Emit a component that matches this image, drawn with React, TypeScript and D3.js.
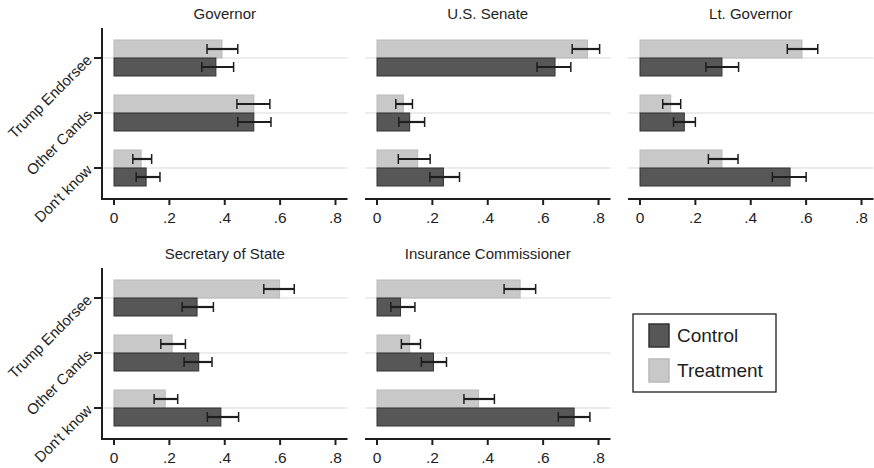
import React from "react";
import * as d3 from "d3";

const categories = ["Trump Endorsee", "Other Cands", "Don't know"];
const offices = ["Governor", "U.S. Senate", "Lt. Governor", "Secretary of State", "Insurance Commissioner"];
const series = ["Control", "Treatment"];
const xTicks = [0, 0.2, 0.4, 0.6, 0.8];
const xTickLabels = ["0", ".2", ".4", ".6", ".8"];

// [office][category] values
const controlMean = [
  [0.368, 0.505, 0.116],
  [0.643, 0.118, 0.240],
  [0.296, 0.160, 0.542],
  [0.300, 0.306, 0.386],
  [0.085, 0.204, 0.712],
];
const controlLo = [
  [0.317, 0.447, 0.080],
  [0.578, 0.079, 0.191],
  [0.238, 0.121, 0.478],
  [0.246, 0.253, 0.337],
  [0.050, 0.160, 0.655],
];
const controlHi = [
  [0.432, 0.567, 0.166],
  [0.700, 0.172, 0.298],
  [0.356, 0.200, 0.600],
  [0.359, 0.354, 0.450],
  [0.137, 0.251, 0.769],
];
const treatMean = [
  [0.390, 0.505, 0.098],
  [0.760, 0.095, 0.147],
  [0.585, 0.111, 0.296],
  [0.598, 0.210, 0.185],
  [0.517, 0.118, 0.367],
];
const treatLo = [
  [0.336, 0.444, 0.068],
  [0.705, 0.068, 0.077],
  [0.532, 0.082, 0.247],
  [0.541, 0.169, 0.145],
  [0.459, 0.088, 0.314],
];
const treatHi = [
  [0.447, 0.563, 0.136],
  [0.804, 0.128, 0.192],
  [0.642, 0.147, 0.354],
  [0.651, 0.258, 0.230],
  [0.573, 0.157, 0.424],
];

const FONT = "'Liberation Sans', Arial, Helvetica, sans-serif";
const CTRL_FILL = "#575757";
const CTRL_STROKE = "#333333";
const TRT_FILL = "#c8c8c8";
const TRT_STROKE = "#b9b9b9";
const INK = "#1e1e1e";

const panelX0 = [114, 377, 640, 114, 377];
const panelTop = [28, 28, 28, 268, 268];
const showY = [true, false, false, true, false];

function Panel({ idx }: { idx: number }) {
  const x0 = panelX0[idx];
  const top = panelTop[idx];
  const bottom = top + 171;
  const x = d3.scaleLinear().domain([0, 0.8]).range([x0, x0 + 221.5]);
  const y = d3.scalePoint<string>().domain(categories).range([top + 30, top + 140]);
  const axisL = x0 - 12;
  const axisR = x(0.8) + 12;
  const barH = 18;
  const bars = categories.map((c, ci) => {
    const cy = y(c) as number;
    return (
      <g key={c}>
        <line x1={axisL} x2={axisR} y1={cy} y2={cy} stroke="#ececec" strokeWidth={2} />
        <rect x={x(0)} y={cy - barH} width={x(treatMean[idx][ci]) - x(0)} height={barH} fill={TRT_FILL} stroke={TRT_STROKE} strokeWidth={1} />
        <rect x={x(0)} y={cy} width={x(controlMean[idx][ci]) - x(0)} height={barH} fill={CTRL_FILL} stroke={CTRL_STROKE} strokeWidth={1} />
        {[
          { lo: treatLo[idx][ci], hi: treatHi[idx][ci], yy: cy - barH / 2 },
          { lo: controlLo[idx][ci], hi: controlHi[idx][ci], yy: cy + barH / 2 },
        ].map((e, k) => (
          <g key={k} stroke={INK}>
            <line x1={x(e.lo)} x2={x(e.hi)} y1={e.yy} y2={e.yy} strokeWidth={2.2} />
            <line x1={x(e.lo)} x2={x(e.lo)} y1={e.yy - 5} y2={e.yy + 5} strokeWidth={1.5} />
            <line x1={x(e.hi)} x2={x(e.hi)} y1={e.yy - 5} y2={e.yy + 5} strokeWidth={1.5} />
          </g>
        ))}
      </g>
    );
  });
  return (
    <g>
      <text x={(axisL + axisR) / 2} y={top - 9} textAnchor="middle" fontFamily={FONT} fontSize={15} fill={INK}>
        {offices[idx]}
      </text>
      {bars}
      <line x1={axisL} x2={axisR} y1={bottom} y2={bottom} stroke={INK} strokeWidth={2} />
      {xTicks.map((t, i) => (
        <g key={t}>
          <line x1={x(t)} x2={x(t)} y1={bottom} y2={bottom + 6} stroke={INK} strokeWidth={2} />
          <text x={x(t)} y={bottom + 24} textAnchor="middle" fontFamily={FONT} fontSize={15.5} fill={INK}>
            {xTickLabels[i]}
          </text>
        </g>
      ))}
      {showY[idx] && (
        <g>
          <line x1={axisL} x2={axisL} y1={top} y2={bottom + 1} stroke={INK} strokeWidth={2} />
          {categories.map((c) => {
            const cy = y(c) as number;
            const ax = axisL - 9;
            const ay = cy + 3;
            return (
              <g key={c}>
                <line x1={axisL - 8} x2={axisL} y1={cy} y2={cy} stroke={INK} strokeWidth={2} />
                <text
                  x={ax}
                  y={ay}
                  textAnchor="end"
                  transform={`rotate(-45, ${ax}, ${ay})`}
                  fontFamily={FONT}
                  fontSize={15}
                  fill={INK}
                >
                  {c}
                </text>
              </g>
            );
          })}
        </g>
      )}
    </g>
  );
}

export default function App() {
  const lx = 633;
  const ly = 314;
  const legendFills = [CTRL_FILL, TRT_FILL];
  const legendStrokes = [CTRL_STROKE, TRT_STROKE];
  return (
    <svg width={874} height={468} style={{ position: "absolute", left: 0, top: 0, background: "#fff" }}>
      <rect x={0} y={0} width={874} height={468} fill="#fff" />
      {offices.map((o, i) => (
        <Panel key={o} idx={i} />
      ))}
      <g>
        <rect x={lx} y={ly} width={143} height={78} fill="#fff" stroke={INK} strokeWidth={1.3} />
        {series.map((s, i) => (
          <g key={s}>
            <rect x={lx + 16} y={ly + 10 + i * 35} width={20} height={23} fill={legendFills[i]} stroke={legendStrokes[i]} strokeWidth={1.5} />
            <text x={lx + 44} y={ly + 28 + i * 35} fontFamily={FONT} fontSize={19} fill={INK}>
              {s}
            </text>
          </g>
        ))}
      </g>
    </svg>
  );
}
